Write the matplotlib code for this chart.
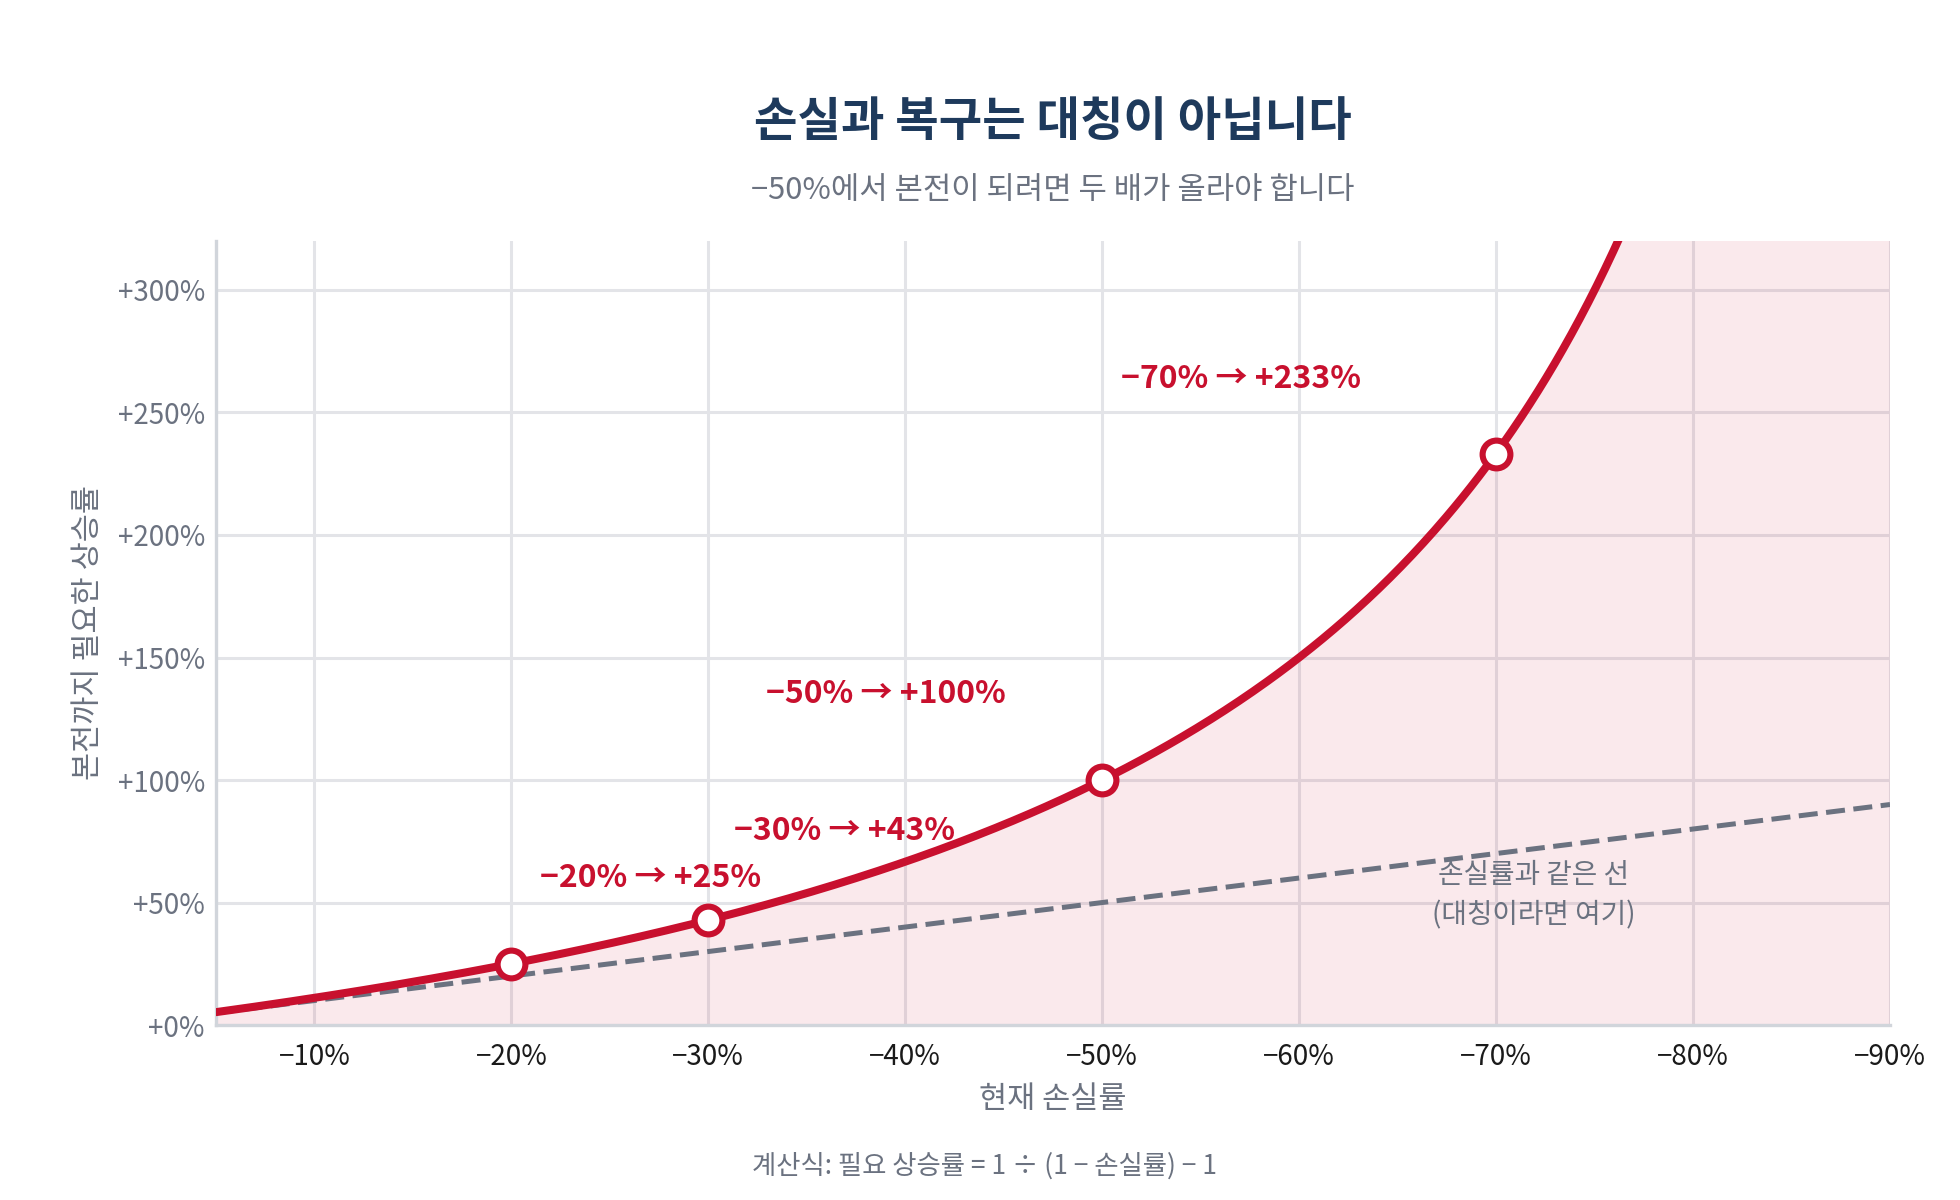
import numpy as np
import matplotlib
matplotlib.use("Agg")
import matplotlib.pyplot as plt

plt.rcParams['font.family'] = ['Noto Sans CJK KR', 'DejaVu Sans']
plt.rcParams['axes.unicode_minus'] = False

# ---- data ----
key_losses = [20, 30, 50, 70]          # 손실률 (%)
key_gains = [25, 43, 100, 233]         # 필요 상승률 (%)
key_labels = ["−20% → +25%", "−30% → +43%", "−50% → +100%", "−70% → +233%"]
label_offsets = [(50, 31), (49, 32), (-78, 31), (-92, 27)]  # points

x_ticks = [10, 20, 30, 40, 50, 60, 70, 80, 90]
x_tick_labels = [f"−{v}%" for v in x_ticks]
y_ticks = [0, 50, 100, 150, 200, 250, 300]
y_tick_labels = [f"+{v}%" for v in y_ticks]

title = "손실과 복구는 대칭이 아닙니다"
subtitle = "−50%에서 본전이 되려면 두 배가 올라야 합니다"
xlabel = "현재 손실률"
ylabel = "본전까지 필요한 상승률"
sym_label = "손실률과 같은 선\n(대칭이라면 여기)"
footnote = "계산식: 필요 상승률 = 1 ÷ (1 − 손실률) − 1"


def required_gain(loss_pct):
    loss = np.asarray(loss_pct, dtype=float) / 100.0
    return (1.0 / (1.0 - loss) - 1.0) * 100.0


loss_grid = np.linspace(5, 90, 600)
gain_curve = required_gain(loss_grid)

RED = "#c8102e"
GRAY = "#6b7280"
NAVY = "#1e3a5c"

fig = plt.figure(figsize=(9.8, 6.0), dpi=200)
ax = fig.add_axes([0.1102, 0.1458, 0.8541, 0.6534])

ax.fill_between(loss_grid, 0, gain_curve, color=RED, alpha=0.09, linewidth=0, zorder=1)
ax.plot(loss_grid, loss_grid, color=GRAY, lw=1.8, dashes=(3.8, 1.7), zorder=3)
ax.plot(loss_grid, gain_curve, color=RED, lw=2.9, zorder=4, solid_capstyle='round')
ax.plot(key_losses, key_gains, 'o', ms=10, mfc='white', mec=RED, mew=2.2, zorder=5)

for lx, gy, txt, off in zip(key_losses, key_gains, key_labels, label_offsets):
    ax.annotate(txt, xy=(lx, gy), xytext=off, textcoords='offset points',
                ha='center', va='center', color=RED, fontsize=11.5,
                fontweight='bold', zorder=6)

ax.text(71.9, 53, sym_label, ha='center', va='center', color=GRAY,
        fontsize=10, linespacing=1.45, zorder=6)

ax.set_xlim(5, 90)
ax.set_ylim(0, 320)
ax.set_xticks(x_ticks)
ax.set_xticklabels(x_tick_labels)
ax.set_yticks(y_ticks)
ax.set_yticklabels(y_tick_labels)
ax.tick_params(axis='x', length=0, pad=6, labelsize=10, labelcolor='#1a1a1a')
ax.tick_params(axis='y', length=0, pad=4, labelsize=10, labelcolor=GRAY)

ax.grid(True, color='#e3e4e8', lw=1.1, zorder=0)
ax.set_axisbelow(True)
for s in ['top', 'right']:
    ax.spines[s].set_visible(False)
for s in ['left', 'bottom']:
    ax.spines[s].set_color('#d1d5db')
    ax.spines[s].set_linewidth(1.2)

ax.set_xlabel(xlabel, fontsize=11, color=GRAY)
ax.xaxis.set_label_coords(0.5, -0.075)
ax.set_ylabel(ylabel, fontsize=11, color=GRAY)
ax.yaxis.set_label_coords(-0.067, 0.5)

fig.text(0.537, 0.898, title, ha='center', va='center', fontsize=17,
         fontweight='bold', color=NAVY)
fig.text(0.537, 0.841, subtitle, ha='center', va='center', fontsize=11.1, color=GRAY)
fig.text(0.5025, 0.028, footnote, ha='center', va='center', fontsize=9.5, color=GRAY)

fig.savefig("out.png", dpi=200, facecolor='white')
